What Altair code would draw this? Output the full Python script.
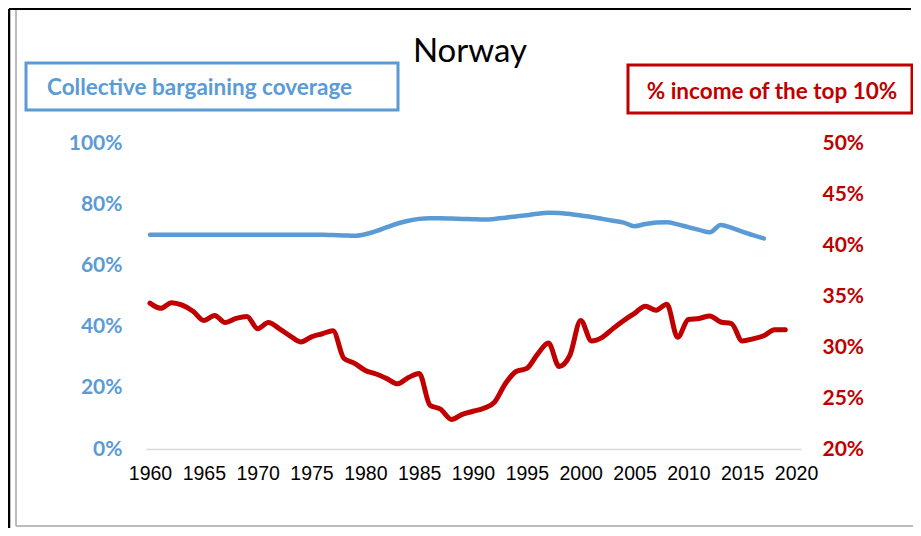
import altair as alt
import pandas as pd

# ---- data ----
cov_years = list(range(1960, 2018))
coverage = [
    70.0, 70.0, 70.0, 70.0, 70.0, 70.0, 70.0, 70.0, 70.0, 70.0,   # 1960-69
    70.0, 70.0, 70.0, 70.0, 70.0, 70.0, 70.0, 69.9, 69.8, 69.7,   # 1970-79
    70.2, 71.2, 72.5, 73.7, 74.6, 75.2, 75.4, 75.4, 75.3, 75.2,   # 1980-89
    75.1, 75.0, 75.2, 75.6, 76.0, 76.4, 76.9, 77.2, 77.1, 76.8,   # 1990-99
    76.3, 75.8, 75.2, 74.6, 74.0, 72.8, 73.5, 74.0, 74.1, 73.4,   # 2000-09
    72.5, 71.6, 70.8, 73.2, 72.3, 71.0, 69.9, 68.8,               # 2010-17
]
top_years = list(range(1960, 2020))
top10 = [
    34.3, 33.8, 34.35, 34.1, 33.5, 32.6, 33.1, 32.4, 32.8, 33.0,  # 1960-69
    31.8, 32.4, 31.8, 31.1, 30.5, 31.0, 31.3, 31.6, 28.9, 28.4,   # 1970-79
    27.7, 27.35, 26.9, 26.4, 27.0, 27.4, 24.3, 23.9, 22.9, 23.4,  # 1980-89
    23.7, 24.0, 24.6, 26.4, 27.6, 27.9, 29.3, 30.4, 28.1, 29.2,   # 1990-99
    32.6, 30.6, 30.95, 31.8, 32.6, 33.3, 34.0, 33.6, 34.2, 30.95, # 2000-09
    32.7, 32.8, 33.05, 32.45, 32.3, 30.6, 30.8, 31.1, 31.7, 31.7, # 2010-19
]
x_ticks = [1960, 1965, 1970, 1975, 1980, 1985, 1990, 1995, 2000, 2005, 2010, 2015, 2020]
left_ticks = [0, 20, 40, 60, 80, 100]
right_ticks = [20, 25, 30, 35, 40, 45, 50]
title_text = "Norway"
left_label = "Collective bargaining coverage"
right_label = "% income of the top 10%"

BLUE = "#5B9BD5"
RED = "#C00000"

cov_df = pd.DataFrame({"year": cov_years, "value": coverage})
top_df = pd.DataFrame({"year": top_years, "value": top10})

xscale = alt.Scale(domain=[1959.63, 2020.46], nice=False, zero=False)
xaxis = alt.Axis(values=x_ticks, format="d", title=None, grid=False, ticks=False,
                 domainColor="#D9D9D9", domainWidth=1.5, labelFont="Liberation Sans",
                 labelFontSize=19.5, labelColor="black", labelPadding=15,
                 labelFlush=False, labelOverlap=False)

blue = alt.Chart(cov_df).mark_line(color=BLUE, strokeWidth=4.5, interpolate="monotone",
                                   strokeCap="round").encode(
    x=alt.X("year:Q", scale=xscale, axis=xaxis),
    y=alt.Y("value:Q", scale=alt.Scale(domain=[0, 100], nice=False),
            axis=alt.Axis(orient="left", values=left_ticks, labelExpr="datum.value + '%'",
                          domain=False, ticks=False, grid=False, title=None,
                          labelFont="Lato", labelFontWeight="bold", labelFontSize=21,
                          labelColor=BLUE, labelPadding=24)),
)

red = alt.Chart(top_df).mark_line(color=RED, strokeWidth=5, interpolate="monotone",
                                  strokeCap="round").encode(
    x=alt.X("year:Q", scale=xscale, axis=xaxis),
    y=alt.Y("value:Q", scale=alt.Scale(domain=[20, 50], nice=False, zero=False),
            axis=alt.Axis(orient="right", values=right_ticks, labelExpr="datum.value + '%'",
                          domain=False, ticks=False, grid=False, title=None,
                          labelFont="Lato", labelFontWeight="bold", labelFontSize=21,
                          labelColor=RED, labelPadding=21)),
)

title_df = pd.DataFrame({"t": [title_text]})
left_df = pd.DataFrame({"t": [left_label]})
right_df = pd.DataFrame({"t": [right_label]})

title_mark = alt.Chart(title_df).mark_text(font="Lato", fontSize=33, color="black",
                                           align="center", baseline="alphabetic").encode(
    text="t:N", x=alt.value(324), y=alt.value(-81))

left_box = alt.Chart(left_df).mark_rect(fillOpacity=0, stroke=BLUE, strokeWidth=3).encode(
    x=alt.value(-120), x2=alt.value(252), y=alt.value(-80), y2=alt.value(-33))
left_txt = alt.Chart(left_df).mark_text(font="Lato", fontSize=22.5, fontWeight="bold", color=BLUE,
                                        align="left", baseline="alphabetic").encode(
    text="t:N", x=alt.value(-99), y=alt.value(-48))

right_box = alt.Chart(right_df).mark_rect(fillOpacity=0, stroke=RED, strokeWidth=3).encode(
    x=alt.value(482), x2=alt.value(766), y=alt.value(-78), y2=alt.value(-30))
right_txt = alt.Chart(right_df).mark_text(font="Lato", fontSize=22.5, fontWeight="bold", color=RED,
                                          align="center", baseline="alphabetic").encode(
    text="t:N", x=alt.value(626), y=alt.value(-44))

frame_top = alt.Chart(title_df).mark_rule(color="black", strokeWidth=2).encode(
    x=alt.value(-137), x2=alt.value(765), y=alt.value(-134))
frame_left = alt.Chart(title_df).mark_rule(color="black", strokeWidth=2.5).encode(
    x=alt.value(-137), y=alt.value(-134), y2=alt.value(385))
frame_inner = alt.Chart(title_df).mark_rule(color="#A6A6A6", strokeWidth=1.5).encode(
    x=alt.value(-130), y=alt.value(-133), y2=alt.value(383))
frame_bottom = alt.Chart(title_df).mark_rule(color="#A6A6A6", strokeWidth=1.5).encode(
    x=alt.value(-130), x2=alt.value(767), y=alt.value(383))

chart = alt.layer(
    blue, red, title_mark, left_box, left_txt, right_box, right_txt,
    frame_top, frame_left, frame_inner, frame_bottom,
).resolve_scale(y="independent").properties(
    width=655, height=306,
    autosize=alt.AutoSizeParams(type="none"),
    padding={"left": 138, "top": 135, "right": 112, "bottom": 79},
    background="white",
).configure_view(stroke=None)

chart.save("out.html", embed_options={"renderer": "svg", "actions": False})
